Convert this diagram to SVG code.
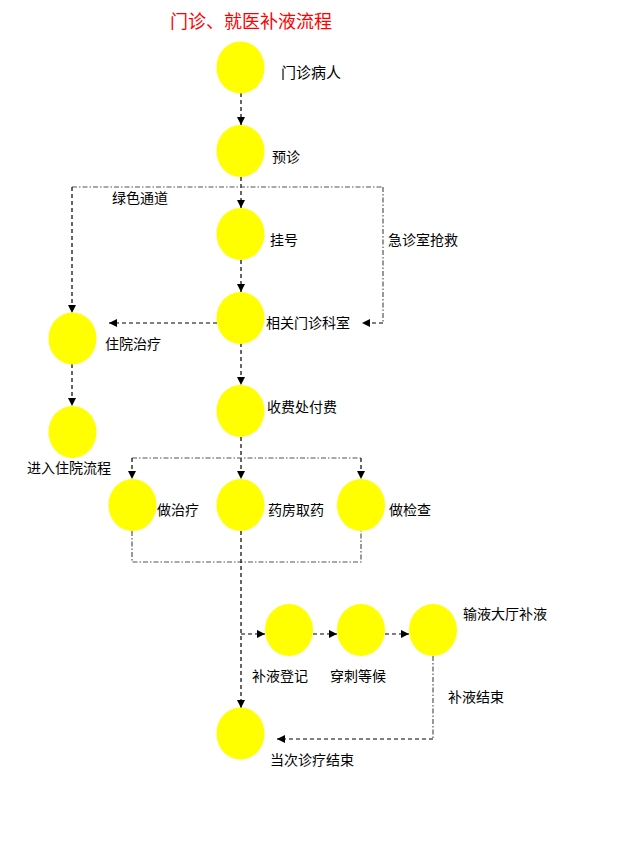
<svg xmlns="http://www.w3.org/2000/svg" width="640" height="863" viewBox="0 0 640 863">
<style>
.n{fill:#ffff00;stroke:none}
.t{font-family:"Noto Sans CJK SC","Liberation Sans",sans-serif;font-size:14px;fill:#000}
.title{font-family:"Noto Sans CJK SC","Liberation Sans",sans-serif;font-size:18px;fill:#ff0000}
.d{fill:none;stroke:#000;stroke-width:1.2;stroke-dasharray:4,3}
.dd{fill:none;stroke:#555;stroke-width:1.2;stroke-dasharray:5,2,1.5,2}
</style>
<defs>
<marker id="a" viewBox="0 0 10 10" refX="10" refY="5" markerWidth="8" markerHeight="8" markerUnits="userSpaceOnUse" orient="auto">
<path d="M0,0 L10,5 L0,10 z" fill="#000"/>
</marker>
</defs>
<rect width="640" height="863" fill="#fff"/>
<text class="title" x="170" y="28">门诊、就医补液流程</text>
<g id="connectors">
<line class="d" x1="241" y1="93" x2="241" y2="125" marker-end="url(#a)"/>
<line class="d" x1="241" y1="177" x2="241" y2="208" marker-end="url(#a)"/>
<polyline class="dd" points="72,187 383,187"/>
<line class="d" x1="72" y1="187" x2="72" y2="313" marker-end="url(#a)"/>
<polyline class="dd" points="383,187 383,323"/>
<line class="d" x1="383" y1="323" x2="362" y2="323" marker-end="url(#a)"/>
<line class="d" x1="217" y1="323" x2="109" y2="323" marker-end="url(#a)"/>
<line class="d" x1="241" y1="260" x2="241" y2="292" marker-end="url(#a)"/>
<line class="d" x1="241" y1="343" x2="241" y2="385" marker-end="url(#a)"/>
<line class="d" x1="72" y1="364" x2="72" y2="406" marker-end="url(#a)"/>
<line class="d" x1="241" y1="437" x2="241" y2="479" marker-end="url(#a)"/>
<polyline class="dd" points="132,458 361,458"/>
<line class="d" x1="132" y1="458" x2="132" y2="479" marker-end="url(#a)"/>
<line class="d" x1="361" y1="458" x2="361" y2="479" marker-end="url(#a)"/>
<polyline class="dd" points="132,531 132,562 361,562 361,531"/>
<line class="d" x1="241" y1="531" x2="241" y2="708" marker-end="url(#a)"/>
<line class="d" x1="241" y1="634" x2="265" y2="634" marker-end="url(#a)"/>
<line class="d" x1="313" y1="634" x2="337" y2="634" marker-end="url(#a)"/>
<line class="d" x1="385" y1="634" x2="409" y2="634" marker-end="url(#a)"/>
<polyline class="dd" points="433,656 433,739"/>
<line class="d" x1="433" y1="739" x2="277" y2="739" marker-end="url(#a)"/>
</g>
<g id="n1"><ellipse class="n" cx="240.5" cy="67.5" rx="24" ry="26"/><text class="t" x="281" y="78" style="font-size:15px">门诊病人</text></g>
<g id="n2"><ellipse class="n" cx="240.5" cy="151" rx="24" ry="26"/><text class="t" x="272" y="162">预诊</text></g>
<g id="n3"><ellipse class="n" cx="240.5" cy="234" rx="24" ry="26"/><text class="t" x="270" y="245">挂号</text></g>
<g id="n4"><ellipse class="n" cx="240.5" cy="318" rx="24" ry="26"/><text class="t" x="266" y="328">相关门诊科室</text></g>
<g id="n5"><ellipse class="n" cx="72.5" cy="338.5" rx="24" ry="26"/><text class="t" x="105" y="349">住院治疗</text></g>
<g id="n6"><ellipse class="n" cx="72.5" cy="432" rx="24" ry="26"/><text class="t" x="27" y="473">进入住院流程</text></g>
<g id="n7"><ellipse class="n" cx="240.5" cy="411" rx="24" ry="26"/><text class="t" x="267" y="412">收费处付费</text></g>
<g id="n8"><ellipse class="n" cx="132.5" cy="505" rx="24" ry="26"/><text class="t" x="157" y="515">做治疗</text></g>
<g id="n9"><ellipse class="n" cx="240.5" cy="505" rx="24" ry="26"/><text class="t" x="268" y="515">药房取药</text></g>
<g id="n10"><ellipse class="n" cx="361" cy="505" rx="24" ry="26"/><text class="t" x="389" y="515">做检查</text></g>
<g id="n11"><ellipse class="n" cx="289" cy="630" rx="24" ry="26"/><text class="t" x="252" y="681">补液登记</text></g>
<g id="n12"><ellipse class="n" cx="361" cy="630" rx="24" ry="26"/><text class="t" x="330" y="681">穿刺等候</text></g>
<g id="n13"><ellipse class="n" cx="433" cy="630" rx="24" ry="26"/><text class="t" x="463" y="619">输液大厅补液</text></g>
<g id="n14"><ellipse class="n" cx="240.5" cy="733.5" rx="24" ry="26"/><text class="t" x="270" y="765">当次诊疗结束</text></g>
<text class="t" x="112" y="203">绿色通道</text>
<text class="t" x="388" y="245">急诊室抢救</text>
<text class="t" x="448" y="702">补液结束</text>
</svg>
